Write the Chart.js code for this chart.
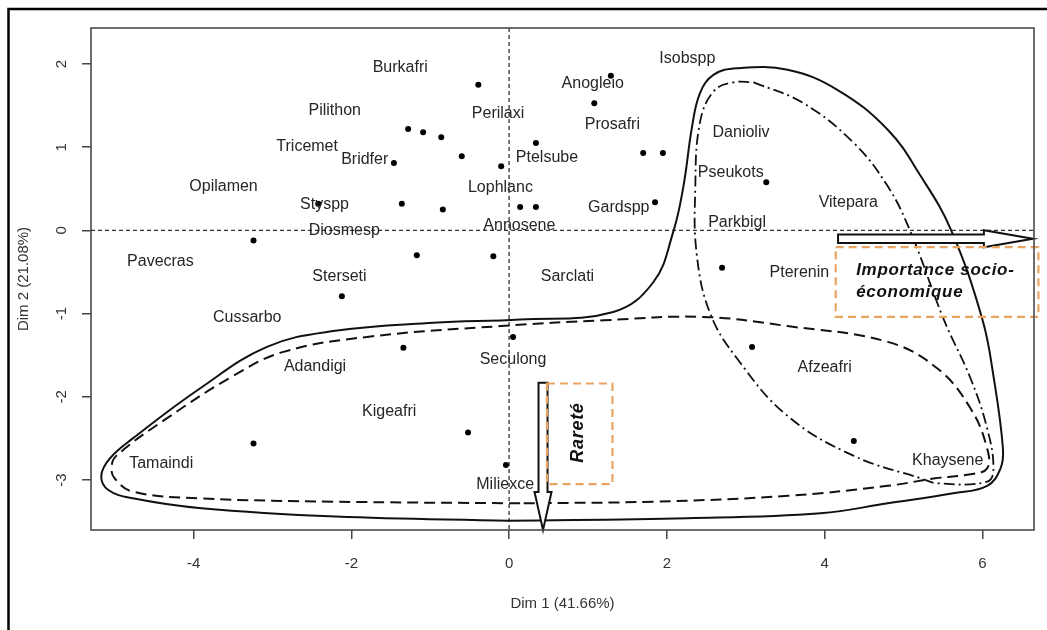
<!DOCTYPE html>
<html>
<head>
<meta charset="utf-8">
<title>Dim 1 / Dim 2</title>
<script src="https://cdn.jsdelivr.net/npm/chart.js@4/dist/chart.umd.min.js"></script>
<style>
  html, body { margin: 0; padding: 0; background: #ffffff; }
  canvas { display: block; }
</style>
</head>
<body>
<canvas id="chart" width="1047" height="630"></canvas>
<script>
// Species coordinates on the first two dimensions
const pointX = [-0.39, -1.28, -1.09, -0.86, -0.60, -0.10, -1.46, -1.36, -0.84, -2.42, 0.14,
                0.34, -3.24, -1.17, -0.20, -2.12, 1.29, 1.08, 0.34, 1.70, 1.95, 3.26,
                1.85, 2.70, 3.08, 4.37, -1.34, -3.24, -0.52, -0.04, 0.05];
const pointY = [1.75, 1.22, 1.18, 1.12, 0.89, 0.77, 0.81, 0.32, 0.25, 0.32, 0.28,
                0.28, -0.12, -0.30, -0.31, -0.79, 1.86, 1.53, 1.05, 0.93, 0.93, 0.58,
                0.34, -0.45, -1.40, -2.53, -1.41, -2.56, -2.43, -2.82, -1.28];

// Species codes and where their names sit
const speciesNames = ['Burkafri', 'Pilithon', 'Perilaxi', 'Tricemet', 'Bridfer', 'Opilamen',
                      'Lophlanc', 'Styspp', 'Diosmesp', 'Annosene', 'Pavecras', 'Sterseti',
                      'Cussarbo', 'Isobspp', 'Anogleio', 'Prosafri', 'Danioliv', 'Ptelsube',
                      'Pseukots', 'Gardspp', 'Vitepara', 'Parkbigl', 'Sarclati', 'Pterenin',
                      'Adandigi', 'Kigeafri', 'Tamaindi', 'Seculong', 'Miliexce', 'Afzeafri',
                      'Khaysene'];
const nameX = [-1.38, -2.21, -0.14, -2.56, -1.83, -3.62, -0.11, -2.34, -2.09, 0.13, -4.42,
               -2.15, -3.32, 2.26, 1.06, 1.31, 2.94, 0.48, 2.81, 1.39, 4.30, 2.89, 0.74,
               3.68, -2.46, -1.52, -4.41, 0.05, -0.05, 4.00, 5.56];
const nameY = [1.96, 1.44, 1.40, 1.01, 0.85, 0.53, 0.52, 0.31, 0.00, 0.06, -0.37, -0.55,
               -1.05, 2.07, 1.77, 1.27, 1.17, 0.87, 0.69, 0.28, 0.34, 0.10, -0.56, -0.51,
               -1.64, -2.18, -2.80, -1.55, -3.06, -1.65, -2.77];

// Axis ticks
const xTicks = [-4, -2, 0, 2, 4, 6];
const yTicks = [-3, -2, -1, 0, 1, 2];

// Group outlines (closed)
const outerX = [0.0, -2.2, -3.9, -4.77, -5.08, -5.17, -5.06, -4.77, -3.92, -3.07, -2.23,
                -0.96, 0.14, 1.32, 1.83, 2.08, 2.21, 2.32, 2.42, 2.59, 2.89, 3.53, 4.16,
                4.80, 5.22, 5.60, 6.0, 6.14, 6.26, 6.23, 6.06, 5.63, 4.80, 3.95, 2.26, 0.0];
const outerY = [-3.49, -3.44, -3.34, -3.22, -3.12, -2.95, -2.74, -2.50, -1.90, -1.40, -1.21,
                -1.11, -1.07, -0.98, -0.62, -0.02, 0.53, 1.25, 1.65, 1.87, 1.95, 1.93, 1.69,
                1.21, 0.65, 0.01, -1.07, -1.75, -2.62, -2.86, -3.07, -3.16, -3.28, -3.40,
                -3.46, -3.49];

const rareX = [0.14, -2.23, -3.92, -4.77, -5.0, -5.04, -4.98, -4.34, -3.50, -2.86, -1.80,
               -0.11, 1.2, 2.46, 3.53, 4.80, 5.43, 5.85, 6.06, 6.06, 5.85, 5.4, 4.80, 3.53,
               1.83, 0.14];
const rareY = [-3.28, -3.26, -3.22, -3.14, -2.98, -2.85, -2.71, -2.26, -1.75, -1.46, -1.28,
               -1.15, -1.08, -1.04, -1.15, -1.34, -1.66, -2.14, -2.62, -2.86, -2.93, -2.98,
               -3.07, -3.19, -3.26, -3.28];

const usefulX = [3.10, 3.73, 4.37, 4.80, 5.09, 5.51, 5.85, 6.06, 6.14, 6.06, 5.43, 5.22,
                 4.37, 3.53, 2.89, 2.55, 2.38, 2.36, 2.42, 2.60, 2.85, 3.10];
const usefulY = [1.78, 1.53, 1.05, 0.53, -0.02, -1.07, -1.78, -2.38, -2.86, -3.02, -3.04,
                 -2.98, -2.71, -2.23, -1.54, -1.00, -0.30, 0.50, 1.30, 1.68, 1.78, 1.78];

const xTitle = 'Dim 1 (41.66%)';
const yTitle = 'Dim 2 (21.08%)';

const toXY = (xs, ys) => xs.map((v, i) => ({ x: v, y: ys[i] }));

const FONT = "'Liberation Sans', Arial, sans-serif";
const INK = '#111111';

// Annotation geometry (data units)
const socioArrow = { x1: 4.17, x2: 6.64, y: -0.10 };
const rareArrow = { x: 0.43, y1: -1.83, y2: -3.60 };
const socioBox = { x1: 4.14, x2: 6.71, y1: -0.20, y2: -1.04 };
const rareBox = { x1: 0.48, x2: 1.31, y1: -1.84, y2: -3.05 };

function arrowPath(ctx, x1, y1, x2, y2, shaft, head, headLen) {
  const dx = x2 - x1, dy = y2 - y1;
  const len = Math.hypot(dx, dy);
  const ux = dx / len, uy = dy / len;
  const nx = -uy, ny = ux;
  const bx = x2 - ux * headLen, by = y2 - uy * headLen;
  ctx.beginPath();
  ctx.moveTo(x1 + nx * shaft, y1 + ny * shaft);
  ctx.lineTo(bx + nx * shaft, by + ny * shaft);
  ctx.lineTo(bx + nx * head, by + ny * head);
  ctx.lineTo(x2, y2);
  ctx.lineTo(bx - nx * head, by - ny * head);
  ctx.lineTo(bx - nx * shaft, by - ny * shaft);
  ctx.lineTo(x1 - nx * shaft, y1 - ny * shaft);
  ctx.closePath();
}

const decorations = {
  id: 'decorations',
  beforeDatasetsDraw(chart) {
    const { ctx, chartArea: a, scales: { x, y } } = chart;
    const x0 = x.getPixelForValue(0), y0 = y.getPixelForValue(0);
    ctx.save();
    ctx.strokeStyle = '#333333';
    ctx.lineWidth = 1.3;
    ctx.setLineDash([4, 3]);
    ctx.beginPath();
    ctx.moveTo(a.left, y0); ctx.lineTo(a.right, y0);
    ctx.moveTo(x0, a.top); ctx.lineTo(x0, a.bottom);
    ctx.stroke();
    ctx.restore();
  },
  afterDatasetsDraw(chart) {
    const { ctx, chartArea: a, scales: { x, y } } = chart;
    ctx.save();

    // species names
    ctx.fillStyle = '#262626';
    ctx.font = '16px ' + FONT;
    ctx.textAlign = 'center';
    ctx.textBaseline = 'middle';
    speciesNames.forEach((n, i) => {
      ctx.fillText(n, x.getPixelForValue(nameX[i]), y.getPixelForValue(nameY[i]));
    });

    // arrows
    ctx.fillStyle = '#ffffff';
    ctx.strokeStyle = INK;
    ctx.lineWidth = 2;
    ctx.lineJoin = 'miter';
    const hy = y.getPixelForValue(socioArrow.y);
    arrowPath(ctx, x.getPixelForValue(socioArrow.x1), hy, x.getPixelForValue(socioArrow.x2), hy, 4.3, 8.5, 49);
    ctx.fill(); ctx.stroke();
    const vx = x.getPixelForValue(rareArrow.x);
    arrowPath(ctx, vx, y.getPixelForValue(rareArrow.y1), vx, y.getPixelForValue(rareArrow.y2), 4.5, 8.5, 38);
    ctx.fill(); ctx.stroke();

    // dashed orange frames and their captions
    ctx.strokeStyle = '#e9a462';
    ctx.lineWidth = 2.2;
    ctx.setLineDash([8, 5]);
    [socioBox, rareBox].forEach(b => {
      const l = x.getPixelForValue(b.x1), r = x.getPixelForValue(b.x2);
      const t = y.getPixelForValue(b.y1), btm = y.getPixelForValue(b.y2);
      ctx.strokeRect(l, t, r - l, btm - t);
    });
    ctx.setLineDash([]);

    ctx.fillStyle = '#111111';
    ctx.textAlign = 'left';
    ctx.font = 'italic bold 17px ' + FONT;
    if ('letterSpacing' in ctx) ctx.letterSpacing = '0.7px';
    const tx = x.getPixelForValue(4.40);
    ctx.fillText('Importance socio-', tx, y.getPixelForValue(-0.48));
    ctx.fillText('économique', tx, y.getPixelForValue(-0.745));

    ctx.save();
    ctx.translate(x.getPixelForValue(0.87), y.getPixelForValue(-2.43));
    ctx.rotate(-Math.PI / 2);
    ctx.textAlign = 'center';
    ctx.font = 'italic bold 18px ' + FONT;
    ctx.fillText('Rareté', 0, 0);
    ctx.restore();
    if ('letterSpacing' in ctx) ctx.letterSpacing = '0px';

    // plot frame
    ctx.strokeStyle = '#4a4a4a';
    ctx.lineWidth = 1.6;
    ctx.strokeRect(a.left, a.top, a.right - a.left, a.bottom - a.top);
    ctx.restore();
  },
  afterDraw(chart) {
    const { ctx } = chart;
    ctx.save();
    ctx.strokeStyle = '#000000';
    ctx.lineWidth = 2.5;
    ctx.beginPath();
    ctx.moveTo(1047, 9); ctx.lineTo(8.5, 9); ctx.lineTo(8.5, 630);
    ctx.stroke();
    ctx.restore();
  }
};

const whiteBackground = {
  id: 'whiteBackground',
  beforeDraw(chart) {
    const { ctx, width, height } = chart;
    ctx.save();
    ctx.fillStyle = '#ffffff';
    ctx.fillRect(0, 0, width, height);
    ctx.restore();
  }
};

const outline = (xs, ys, dash, width) => ({
  data: toXY(xs, ys),
  showLine: true,
  pointRadius: 0,
  borderColor: INK,
  borderWidth: width,
  borderDash: dash,
  tension: 0.4,
  fill: false
});

new Chart(document.getElementById('chart'), {
  type: 'scatter',
  data: {
    datasets: [
      {
        data: toXY(pointX, pointY),
        pointRadius: 3,
        pointBackgroundColor: '#000000',
        pointBorderWidth: 0,
        showLine: false
      },
      outline(outerX, outerY, [], 2),
      outline(rareX, rareY, [11, 6], 2),
      outline(usefulX, usefulY, [11, 4, 2, 4], 1.8)
    ]
  },
  options: {
    responsive: false,
    animation: false,
    events: [],
    layout: { padding: { top: 28, right: 13, left: 0, bottom: 0 } },
    plugins: { legend: { display: false }, tooltip: { enabled: false } },
    scales: {
      x: {
        type: 'linear',
        min: -5.30,
        max: 6.654,
        afterBuildTicks: s => { s.ticks = xTicks.map(v => ({ value: v })); },
        afterFit: s => { s.height = 100; },
        grid: { drawOnChartArea: false, drawTicks: true, tickLength: 9, color: '#444444', lineWidth: 1.5 },
        border: { display: false },
        ticks: { font: { family: FONT, size: 15 }, color: '#333333', padding: 16 },
        title: { display: true, text: xTitle, font: { family: FONT, size: 15 }, color: '#333333', padding: { top: 0, bottom: 17 } }
      },
      y: {
        type: 'linear',
        min: -3.601,
        max: 2.433,
        afterBuildTicks: s => { s.ticks = yTicks.map(v => ({ value: v })); },
        afterFit: s => { s.width = 91; },
        grid: { drawOnChartArea: false, drawTicks: true, tickLength: 9, color: '#444444', lineWidth: 1.5 },
        border: { display: false },
        ticks: { font: { family: FONT, size: 15 }, color: '#333333', padding: 13, minRotation: 90, maxRotation: 90, crossAlign: 'center' },
        title: { display: true, text: yTitle, font: { family: FONT, size: 15 }, color: '#333333', padding: { top: 15, bottom: 0 } }
      }
    }
  },
  plugins: [whiteBackground, decorations]
});
</script>
</body>
</html>
